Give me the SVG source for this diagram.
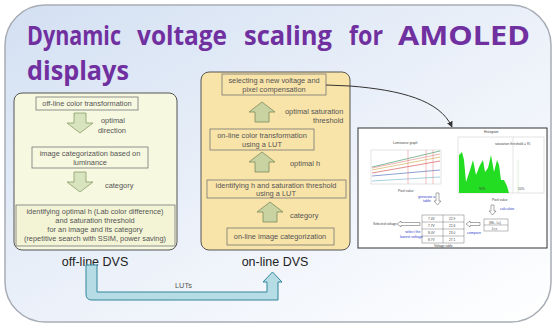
<svg xmlns="http://www.w3.org/2000/svg" width="557" height="328" viewBox="0 0 557 328">
<defs>
<linearGradient id="bg" x1="0" y1="0" x2="1" y2="1">
<stop offset="0" stop-color="#d3e0f2"/>
<stop offset="0.55" stop-color="#edf2fa"/>
<stop offset="1" stop-color="#ffffff"/>
</linearGradient>
<marker id="ah" viewBox="0 0 10 10" refX="9" refY="5" markerWidth="6" markerHeight="6" orient="auto"><path d="M0,0 L10,5 L0,10 z" fill="#333"/></marker>
<style>
.t{font-family:"Liberation Sans",Arial,sans-serif;font-size:7.4px;fill:#555;text-anchor:middle}
.lbl{font-family:"Liberation Sans",Arial,sans-serif;font-size:7.4px;fill:#555}
.cap{font-family:"Liberation Sans",Arial,sans-serif;font-size:12.5px;fill:#222;text-anchor:middle}
.title{font-family:"Open Sans","Noto Sans",sans-serif;font-weight:bold;font-size:27px;fill:#7030a0}
.box{fill:none;stroke:#777;stroke-width:0.8}
.garr{fill:#d7e4bd;stroke:#8a9a6a;stroke-width:0.8}
.oarr{fill:#c9d3a2;stroke:#7f8a5a;stroke-width:0.8}
.tiny{font-family:"Liberation Sans",Arial,sans-serif;font-size:3.2px;fill:#444}
.blue{font-family:"Liberation Sans",Arial,sans-serif;font-size:3.6px;fill:#3344cc}
.harr{fill:#fff;stroke:#555;stroke-width:0.5}
</style>
</defs>
<rect x="5" y="5" width="546" height="317" rx="40" fill="url(#bg)" stroke="#a8adb5" stroke-width="1.5"/>
<g id="title">
<text class="title" x="27" y="45" textLength="94" lengthAdjust="spacingAndGlyphs">Dynamic</text>
<text class="title" x="137" y="45" textLength="90" lengthAdjust="spacingAndGlyphs">voltage</text>
<text class="title" x="244" y="45" textLength="88" lengthAdjust="spacingAndGlyphs">scaling</text>
<text class="title" x="349" y="45" textLength="34" lengthAdjust="spacingAndGlyphs">for</text>
<text class="title" x="398" y="45" textLength="132" lengthAdjust="spacingAndGlyphs">AMOLED</text>
<text class="title" x="27" y="80" textLength="102" lengthAdjust="spacingAndGlyphs">displays</text>
</g>
<g id="offline">
<rect x="14" y="93" width="163" height="157" rx="8" fill="#f6f8df" stroke="#555" stroke-width="1"/>
<g id="off1"><rect class="box" x="36" y="97" width="102" height="13"/><text class="t" x="87" y="106">off-line color transformation</text></g>
<path class="garr" d="M74,113 H86 V123 H93 L80,133 L67,123 H74 Z"/>
<text class="lbl" x="101" y="123">optimal</text><text class="lbl" x="98" y="133">direction</text>
<g id="off2"><rect class="box" x="32" y="147" width="116" height="21"/><text class="t" x="90" y="156">image categorization based on</text><text class="t" x="90" y="165">luminance</text></g>
<path class="garr" d="M74,172 H86 V182 H93 L80,192 L67,182 H74 Z"/>
<text class="lbl" x="105" y="188">category</text>
<g id="off3"><rect x="16" y="205" width="159" height="41" fill="#f3f4d6" stroke="#777" stroke-width="0.8"/>
<text class="t" x="95" y="214">identifying optimal h (Lab color difference)</text>
<text class="t" x="95" y="223">and saturation threshold</text>
<text class="t" x="95" y="232">for an image and its category</text>
<text class="t" x="95" y="241">(repetitive search with SSIM, power saving)</text></g>
<text class="cap" x="95" y="266">off-line DVS</text>
</g>
<g id="online">
<rect x="201" y="72" width="149" height="178" rx="8" fill="#f8e3a8" stroke="#555" stroke-width="1"/>
<g id="on1"><rect class="box" x="222" y="74" width="104" height="21"/><text class="t" x="274" y="83">selecting a new voltage and</text><text class="t" x="274" y="92">pixel compensation</text></g>
<path class="oarr" d="M262,102 L275,112 H269 V122 H255 V112 H249 Z"/>
<text class="lbl" x="285" y="114">optimal saturation</text><text class="lbl" x="313" y="123">threshold</text>
<g id="on2"><rect class="box" x="210" y="129" width="104" height="21"/><text class="t" x="262" y="138">on-line color transformation</text><text class="t" x="262" y="147">using a LUT</text></g>
<path class="oarr" d="M262,152 L275,162 H269 V172 H255 V162 H249 Z"/>
<text class="lbl" x="290" y="166">optimal h</text>
<g id="on3"><rect class="box" x="207" y="180" width="139" height="18"/><text class="t" x="276" y="188">identifying h and saturation threshold</text><text class="t" x="276" y="196">using a LUT</text></g>
<path class="oarr" d="M270,202 L283,212 H277 V222 H263 V212 H257 Z"/>
<text class="lbl" x="290" y="218">category</text>
<g id="on4"><rect class="box" x="227" y="228" width="107" height="17"/><text class="t" x="280" y="239">on-line image categorization</text></g>
<text class="cap" x="275" y="266">on-line DVS</text>
</g>
<g id="result">
<rect x="358" y="128" width="189" height="120" fill="#fff" stroke="#333" stroke-width="1"/>
<g id="lumgraph">
<text class="tiny" x="393" y="144">Luminance graph</text>
<rect x="371" y="150" width="70" height="34" fill="none" stroke="#bbb" stroke-width="0.4"/>
<line x1="372" y1="167" x2="440" y2="151" stroke="#2e8b57" stroke-width="0.6"/>
<line x1="372" y1="168" x2="440" y2="154" stroke="#e08080" stroke-width="0.6"/>
<line x1="372" y1="170" x2="440" y2="157" stroke="#c9a640" stroke-width="0.6"/>
<line x1="372" y1="173" x2="440" y2="161" stroke="#d04040" stroke-width="0.6"/>
<line x1="372" y1="176" x2="440" y2="170" stroke="#4060b0" stroke-width="0.6"/>
<line x1="372" y1="181" x2="440" y2="177" stroke="#6ab0d0" stroke-width="0.6"/>
<line x1="408" y1="150" x2="408" y2="184" stroke="#e06060" stroke-width="0.4"/>
<line x1="426" y1="150" x2="426" y2="184" stroke="#e06060" stroke-width="0.4"/>
<line x1="433" y1="150" x2="433" y2="184" stroke="#e06060" stroke-width="0.4"/>
<text class="tiny" x="398" y="192">Pixel value</text>
</g>
<g id="histogram">
<text class="tiny" x="484" y="133">Histogram</text>
<rect x="458" y="137" width="86" height="56" fill="none" stroke="#bbb" stroke-width="0.4"/>
<text class="tiny" x="495" y="145">saturation threshold = 95</text>
<path d="M459,193 L459,155 L462,152 L464,160 L466,182 L470,170 L473,160 L476,175 L480,165 L483,160 L485,172 L488,168 L491,155 L494,172 L497,160 L499,165 L501,180 L504,180 L507,186 L509,193 Z" fill="#22dd22"/>
<line x1="513" y1="137" x2="513" y2="193" stroke="#bbb" stroke-width="0.4"/>
<line x1="518" y1="160" x2="518" y2="193" stroke="#bde8bd" stroke-width="0.6"/>
<text class="tiny" x="479" y="190">90%</text><text class="tiny" x="518" y="190">10%</text>
<text class="tiny" x="492" y="201">Pixel value</text>
</g>
<text class="blue" x="418" y="198">generate a</text><text class="blue" x="423" y="202">table</text>
<path class="harr" d="M436,193 H439 V201 H441 L437.5,205 L434,201 H436 Z"/>
<path class="harr" d="M491,205 H494 V211 H496 L492.5,215 L489,211 H491 Z"/>
<text class="blue" x="500" y="210">calculate</text>
<g id="vtable" fill="none" stroke="#555" stroke-width="0.4">
<rect x="422" y="215" width="42" height="28"/><line x1="443" y1="215" x2="443" y2="243"/>
<line x1="422" y1="222" x2="464" y2="222"/><line x1="422" y1="229" x2="464" y2="229"/><line x1="422" y1="236" x2="464" y2="236"/>
</g>
<text class="tiny" x="428" y="220">7.4V</text><text class="tiny" x="449" y="220">22.9</text>
<text class="tiny" x="428" y="227">7.7V</text><text class="tiny" x="449" y="227">22.6</text>
<text class="tiny" x="428" y="234">8.0V</text><text class="tiny" x="449" y="234">23.0</text>
<text class="tiny" x="428" y="241">8.7V</text><text class="tiny" x="449" y="241">27.1</text>
<text class="tiny" x="434" y="247">Voltage table</text>
<g fill="none" stroke="#555" stroke-width="0.4"><rect x="484" y="219" width="24" height="12"/><line x1="484" y1="225" x2="508" y2="225"/></g>
<text class="tiny" x="489" y="224">(Wc, Lc)</text><text class="tiny" x="492" y="230">Lt,s</text>
<path class="harr" d="M480,222.5 H470 V221 L466,224 L470,227 V225.5 H480 Z"/>
<text class="blue" x="467" y="234">compare</text>
<path class="harr" d="M420,222.5 H401 V221 L397,224 L401,227 V225.5 H420 Z"/>
<text class="tiny" x="373" y="225">Selected voltage</text>
<text class="blue" x="405" y="233">select the</text><text class="blue" x="400" y="238">lowest voltage</text>
</g>
<g id="connectors">
<path d="M326,85 L350,86 C400,90 440,100 452,127" fill="none" stroke="#333" stroke-width="1" marker-end="url(#ah)"/>
<path d="M86,265 H97 V292 H267 V282 H263 L272.5,272 L282,282 H278 V300 H92 Q86,300 86,294 Z" fill="#b6dde6" stroke="#31859c" stroke-width="1"/>
<text class="lbl" x="175" y="288">LUTs</text>
</g>
</svg>
